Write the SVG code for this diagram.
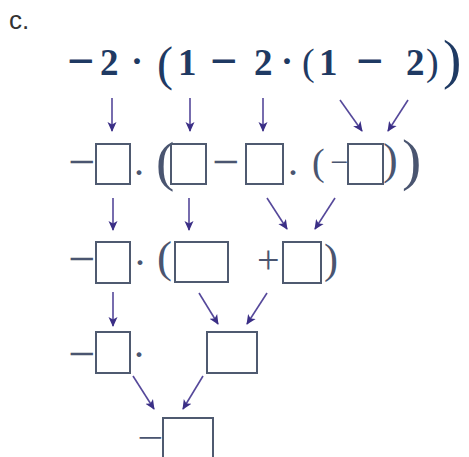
<svg xmlns="http://www.w3.org/2000/svg" width="469" height="457" viewBox="0 0 469 457">
<defs>
<marker id="ah" markerUnits="userSpaceOnUse" markerWidth="10" markerHeight="10" viewBox="0 0 10 10" refX="9" refY="5" orient="auto">
<path d="M0,0.5 L10,5 L0,9.5 L2.5,5 z" fill="#3b2f86"/>
</marker>
<style>
.top{font-family:"Liberation Serif",serif;font-weight:bold;fill:#1f3a63}
.sym{font-family:"Liberation Serif",serif;fill:#4a5570}
.box{fill:none;stroke:#4f5a70;stroke-width:2}
.arr{stroke:#55489a;stroke-width:1.6;fill:none;marker-end:url(#ah)}
.lab{font-family:"Liberation Sans",Arial,sans-serif;fill:#333}
</style>
</defs>
<rect width="469" height="457" fill="#ffffff"/>
<text class="lab" x="9" y="29" font-size="26">c.</text>
<g id="expr">
<text class="top" y="75"><tspan x="67" y="77" font-size="48">−</tspan><tspan x="100" y="75" font-size="37">2</tspan><tspan x="131" y="73" font-size="36">·</tspan><tspan x="157" y="80" font-size="48" font-weight="normal">(</tspan><tspan x="178" y="75" font-size="37">1</tspan><tspan x="210" y="77" font-size="48">−</tspan><tspan x="254" y="75" font-size="37">2</tspan><tspan x="281" y="73" font-size="36">·</tspan><tspan x="302" y="75" font-size="38" font-weight="normal">(</tspan><tspan x="319" y="75" font-size="37">1</tspan><tspan x="356" y="77" font-size="48">−</tspan><tspan x="406" y="75" font-size="37">2</tspan><tspan x="426" y="75" font-size="38" font-weight="normal">)</tspan><tspan x="443" y="78" font-size="55" font-weight="normal">)</tspan></text>
</g>
<g id="row2">
<text class="sym" font-size="48" x="68" y="178">−</text>
<rect class="box" x="96" y="144" width="34" height="40"/>
<text class="sym" font-size="30" font-weight="bold" x="134" y="182">·</text>
<text class="sym" font-size="55" x="156" y="180">(</text>
<rect class="box" x="171" y="144" width="35" height="40"/>
<text class="sym" font-size="48" x="212" y="178">−</text>
<rect class="box" x="246" y="144" width="37" height="40"/>
<text class="sym" font-size="30" font-weight="bold" x="288" y="182">·</text>
<text class="sym" font-size="38" x="312" y="175">(</text>
<text class="sym" font-size="32" x="330" y="173">−</text>
<rect class="box" x="348" y="144" width="35" height="40"/>
<text class="sym" font-size="44" x="383" y="174">)</text>
<text class="sym" font-size="58" x="402" y="179">)</text>
</g>
<g id="row3">
<text class="sym" font-size="48" x="68" y="275">−</text>
<rect class="box" x="96" y="242" width="34" height="41"/>
<text class="sym" font-size="30" font-weight="bold" x="135" y="272">·</text>
<text class="sym" font-size="45" x="157" y="272">(</text>
<rect class="box" x="175" y="242" width="53" height="40"/>
<text class="sym" font-size="40" x="257" y="273">+</text>
<rect class="box" x="283" y="242" width="38" height="41"/>
<text class="sym" font-size="42" x="324" y="273">)</text>
</g>
<g id="row4">
<text class="sym" font-size="48" x="68" y="370">−</text>
<rect class="box" x="96" y="332" width="34" height="41"/>
<text class="sym" font-size="30" font-weight="bold" x="134" y="364">·</text>
<rect class="box" x="207" y="332" width="50" height="41"/>
</g>
<g id="row5">
<text class="sym" font-size="34" x="137" y="448.5" textLength="26" lengthAdjust="spacingAndGlyphs">−</text>
<rect class="box" x="163" y="418" width="50" height="44"/>
</g>
<g id="connectors">
<line class="arr" x1="112" y1="98" x2="112" y2="131"/>
<line class="arr" x1="190" y1="98" x2="190" y2="131"/>
<line class="arr" x1="263" y1="98" x2="263" y2="131"/>
<line class="arr" x1="340" y1="100" x2="362" y2="131"/>
<line class="arr" x1="408" y1="100" x2="388" y2="131"/>
<line class="arr" x1="113" y1="198" x2="113" y2="230"/>
<line class="arr" x1="189" y1="198" x2="189" y2="230"/>
<line class="arr" x1="267" y1="198" x2="287" y2="229"/>
<line class="arr" x1="335" y1="198" x2="315" y2="229"/>
<line class="arr" x1="113" y1="292" x2="113" y2="326"/>
<line class="arr" x1="199" y1="293" x2="218" y2="324"/>
<line class="arr" x1="267" y1="293" x2="247" y2="324"/>
<line class="arr" x1="133" y1="376" x2="154" y2="409"/>
<line class="arr" x1="203" y1="376" x2="183" y2="409"/>
</g>
</svg>
